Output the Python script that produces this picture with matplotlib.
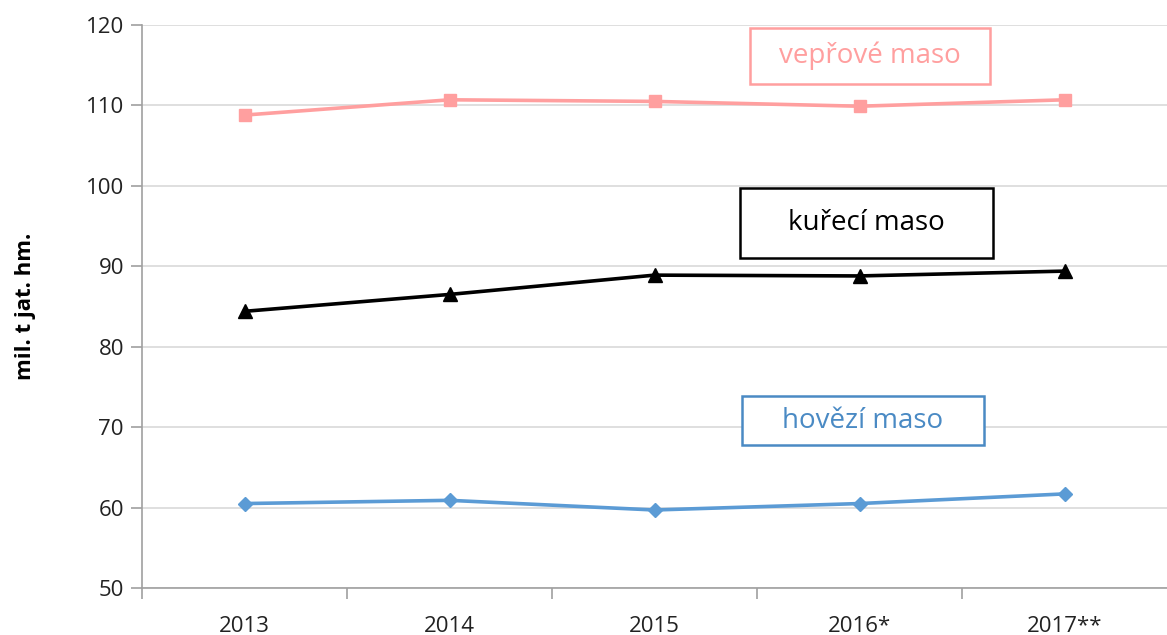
import matplotlib
matplotlib.use('Agg')
import matplotlib.pyplot as plt
from matplotlib.patches import Rectangle

# data
years = ['2013', '2014', '2015', '2016*', '2017**']
veprove = [108.8, 110.7, 110.5, 109.9, 110.7]
kureci = [84.4, 86.5, 88.9, 88.8, 89.4]
hovezi = [60.5, 60.9, 59.7, 60.5, 61.7]

plt.rcParams['font.family'] = ['Open Sans', 'DejaVu Sans']

fig = plt.figure(figsize=(11.67, 6.35), dpi=100)
ax = fig.add_axes([142 / 1167, 1 - 588 / 635, 1025 / 1167, 563 / 635])

x = range(len(years))
ax.plot(x, veprove, color='#FF9F9F', lw=2.6, marker='s', ms=9, zorder=3)
ax.plot(x, kureci, color='black', lw=2.6, marker='^', ms=10, zorder=3)
ax.plot(x, hovezi, color='#5B9BD5', lw=2.6, marker='D', ms=7, zorder=3)

ax.set_xlim(-0.5, len(years) - 0.5)
ax.set_ylim(50, 120)
ax.set_yticks(range(50, 121, 10))
ax.set_xticks(x)
ax.set_xticklabels(years)
ax.set_xticks([i + 0.5 for i in range(-1, len(years) - 1)], minor=True)
ax.tick_params(axis='x', which='major', length=0, pad=20, labelsize=16, colors='#222222')
ax.tick_params(axis='x', which='minor', length=8, color='#A0A0A0', width=1.2)
ax.tick_params(axis='y', length=8, color='#A0A0A0', width=1.2, labelsize=16, colors='#222222', pad=5)
ax.grid(axis='y', color='#D9D9D9', lw=1.2)
ax.set_axisbelow(True)
for s in ['top', 'right']:
    ax.spines[s].set_visible(False)
for s in ['left', 'bottom']:
    ax.spines[s].set_color('#A0A0A0')
    ax.spines[s].set_linewidth(1.2)

ax.set_ylabel('mil. t jat. hm.', fontsize=16, fontweight='bold', labelpad=36)

# popisky v rámečcích
boxes = [
    ('vepřové maso', 2.466, 3.637, 112.66, 119.63, '#FF9F9F'),
    ('kuřecí maso', 2.417, 3.651, 91.03, 99.73, 'black'),
    ('hovězí maso', 2.427, 3.607, 67.78, 73.87, '#4A8AC4'),
]
for txt, x0, x1, y0, y1, c in boxes:
    ax.add_patch(Rectangle((x0, y0), x1 - x0, y1 - y0, fill=True, facecolor='white',
                           edgecolor=c, lw=1.8, zorder=4))
    ax.text((x0 + x1) / 2, (y0 + y1) / 2, txt, color=c, fontsize=20,
            ha='center', va='center', zorder=5)

fig.savefig('out.png', dpi=100)
